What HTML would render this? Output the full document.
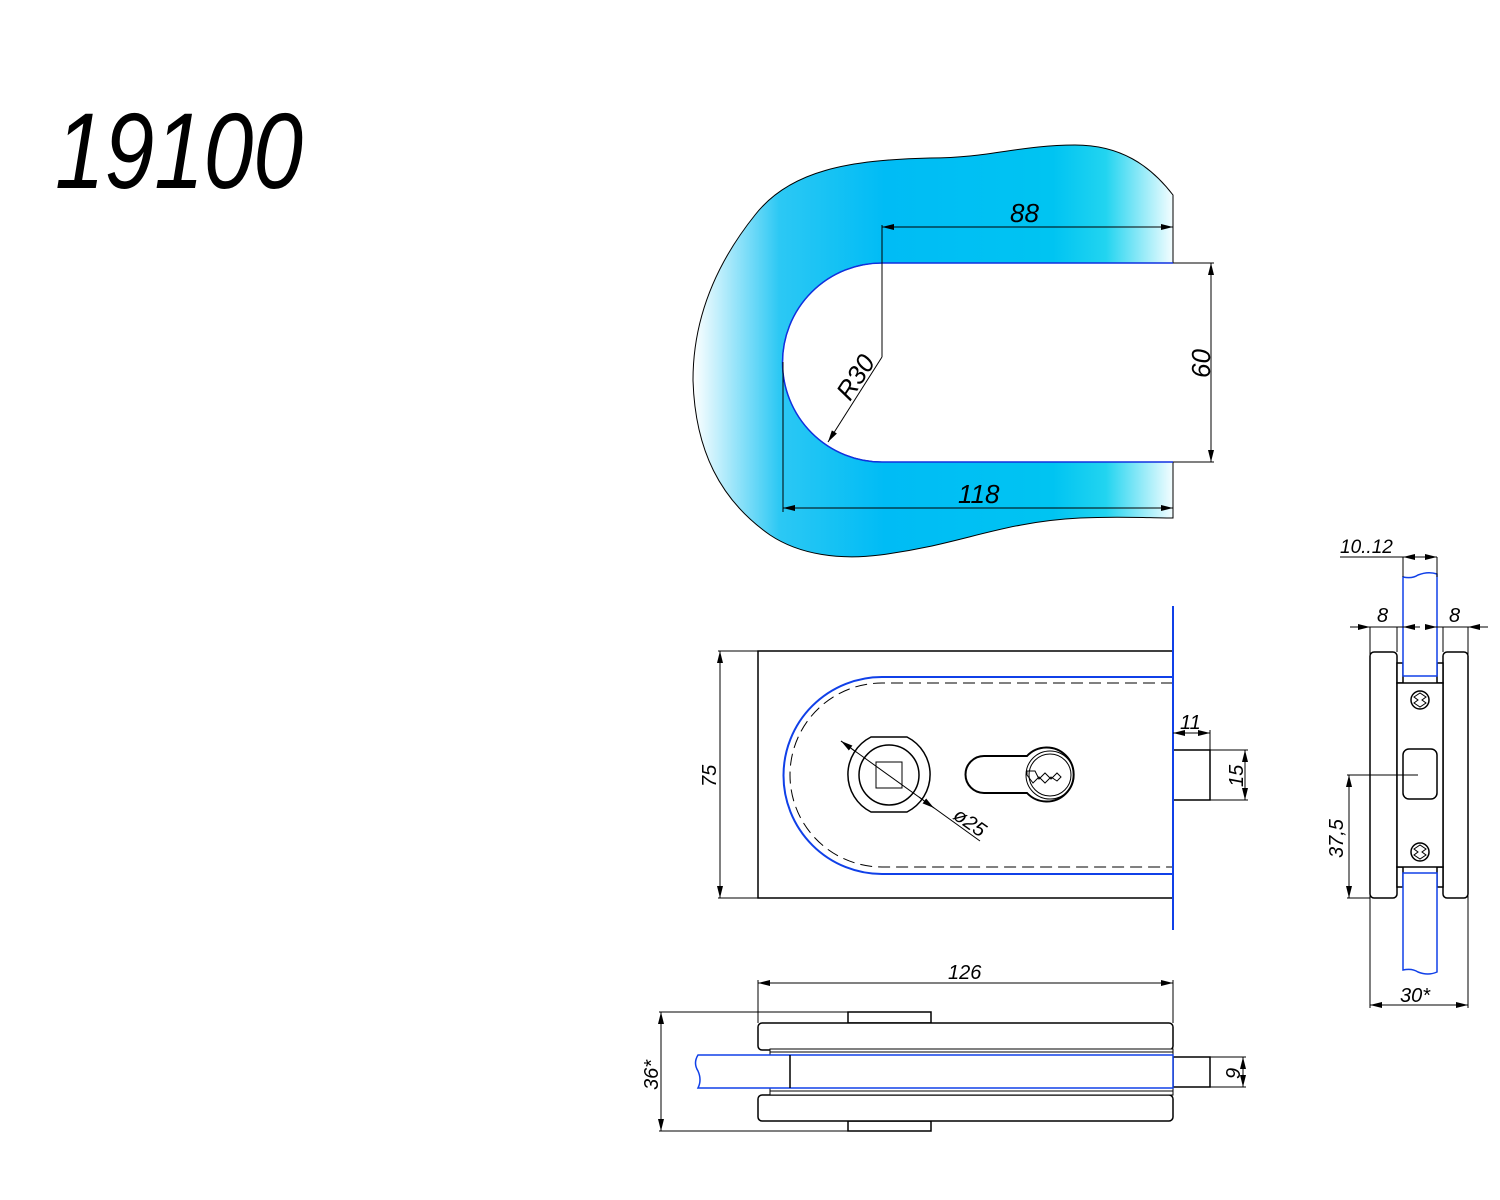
<!DOCTYPE html>
<html><head><meta charset="utf-8"><style>html,body{margin:0;padding:0;background:#fff}svg{display:block}text{font-family:"Liberation Sans",sans-serif;font-style:italic;fill:#000}</style></head><body>
<svg width="1500" height="1200" viewBox="0 0 1500 1200" xmlns="http://www.w3.org/2000/svg">
<defs>
<linearGradient id="g" x1="693" y1="0" x2="1173" y2="0" gradientUnits="userSpaceOnUse">
<stop offset="0" stop-color="#ffffff"/><stop offset="0.18" stop-color="#2cc8f4"/><stop offset="0.4" stop-color="#00bcf5"/><stop offset="0.75" stop-color="#00c4f2"/><stop offset="0.86" stop-color="#22d4f0"/><stop offset="1" stop-color="#f4fdff"/></linearGradient>
<marker id="a" viewBox="0 0 12 6" refX="12" refY="3" markerWidth="12" markerHeight="6" orient="auto-start-reverse" markerUnits="userSpaceOnUse"><path d="M0,0L12,3L0,6z" fill="#000"/></marker>
</defs>
<text x="55" y="188" font-size="108" textLength="248" lengthAdjust="spacingAndGlyphs">19100</text>

<path d="M1173,195 C1150,165 1120,145 1075,145 C1020,145 990,158 930,158 C850,160 790,170 755,215 C715,265 693,320 693,380 C695,450 720,500 770,535 C800,555 840,560 880,555 C960,545 1000,522 1080,518 C1120,516 1150,518 1173,518 L1173,462 L882,462 A99.5,99.5 0 0 1 882,263 L1173,263 Z" fill="url(#g)" stroke="#000" stroke-width="1"/>
<path d="M1173,263 L882,263 A99.5,99.5 0 0 0 882,462 L1173,462" fill="none" stroke="#1030e0" stroke-width="1.5"/>
<g stroke="#000" stroke-width="1" fill="none">
<line x1="882" y1="227" x2="1173" y2="227" marker-start="url(#a)" marker-end="url(#a)"/>
<line x1="882" y1="225" x2="882" y2="357"/>
<line x1="882" y1="357" x2="828" y2="442" marker-end="url(#a)"/>
<line x1="1173" y1="263" x2="1214" y2="263"/><line x1="1173" y1="462" x2="1214" y2="462"/>
<line x1="1211" y1="263" x2="1211" y2="462" marker-start="url(#a)" marker-end="url(#a)"/>
<line x1="783" y1="362" x2="783" y2="512"/>
<line x1="783" y1="508" x2="1173" y2="508" marker-start="url(#a)" marker-end="url(#a)"/>
</g>
<text x="1010" y="222" font-size="26">88</text>
<text x="958" y="503" font-size="26">118</text>
<text font-size="26" transform="translate(1210,378) rotate(-90)">60</text>
<text font-size="26" transform="translate(850,402) rotate(-57)">R30</text>

<g fill="none" stroke="#000" stroke-width="1.5">
<rect x="758" y="651" width="415" height="247"/>
<path d="M1173,683 L882,683 A92,92 0 0 0 882,867 L1173,867" stroke-dasharray="12,6" stroke-width="1"/>
<path d="M871,737 L907,737 A42,42 0 0 1 907,812 L871,812 A42,42 0 0 1 871,737 Z"/>
<circle cx="889" cy="775" r="30"/>
<rect x="876" y="762" width="26" height="26" stroke-width="1"/>
<path d="M984,756 L1027,756 A27,27 0 1 1 1027,793 L984,793 A18.5,18.5 0 0 1 984,756 Z" stroke-width="2"/>
<circle cx="1050" cy="775" r="24" stroke-width="1"/><circle cx="1050" cy="775" r="21" stroke-width="1"/>
<path d="M1027,771 l8,0 l4,8 l6,-6 l6,6 l6,-6 l4,4 l-4,4 l-6,-4 l-6,6 l-6,-6 l-6,6 l-6,-8 z" stroke-width="1"/>
<rect x="1173" y="750" width="37" height="50"/>
</g>
<path d="M1173,677 L882,677 A98.5,98.5 0 0 0 882,874 L1173,874" fill="none" stroke="#1040e8" stroke-width="2"/>
<line x1="1173" y1="606" x2="1173" y2="930" stroke="#1040e8" stroke-width="2"/>
<g stroke="#000" stroke-width="1" fill="none">
<line x1="841" y1="741" x2="980" y2="841"/>
<line x1="841" y1="741" x2="856" y2="752" marker-start="url(#a)"/>
<line x1="919" y1="797" x2="934" y2="808" marker-end="url(#a)"/>
<line x1="718" y1="651" x2="758" y2="651"/><line x1="718" y1="898" x2="758" y2="898"/>
<line x1="720" y1="651" x2="720" y2="898" marker-start="url(#a)" marker-end="url(#a)"/>
<line x1="1210" y1="730" x2="1210" y2="750"/>
<line x1="1173" y1="733" x2="1210" y2="733" marker-start="url(#a)" marker-end="url(#a)"/>
<line x1="1210" y1="750" x2="1248" y2="750"/><line x1="1210" y1="800" x2="1248" y2="800"/>
<line x1="1245" y1="750" x2="1245" y2="800" marker-start="url(#a)" marker-end="url(#a)"/>
</g>
<text font-size="20" transform="translate(716,787) rotate(-90)">75</text>
<text x="1180" y="729" font-size="20">11</text>
<text font-size="20" transform="translate(1243,787) rotate(-90)">15</text>
<text font-size="20" transform="translate(952,818) rotate(35)">ø25</text>

<g stroke="#000" stroke-width="1.5" fill="#fff">
<rect x="1370" y="652" width="27" height="246" rx="4"/>
<rect x="1443" y="652" width="25" height="246" rx="4"/>
<rect x="1397" y="663" width="6" height="20"/><rect x="1437" y="663" width="6" height="20"/>
<rect x="1397" y="867" width="6" height="20"/><rect x="1437" y="867" width="6" height="20"/>
</g>
<path d="M1403,676 L1403,577 Q1412,579 1418,575 Q1428,571 1437,574 L1437,676 Z" fill="#fff" stroke="#1040e8" stroke-width="1.5"/>
<path d="M1403,873 L1403,970 Q1412,968 1418,972 Q1428,976 1437,972 L1437,873 Z" fill="#fff" stroke="#1040e8" stroke-width="1.5"/>
<g stroke="#000" stroke-width="1.5" fill="#fff">
<rect x="1397" y="683" width="46" height="184"/>
<rect x="1403" y="749" width="34" height="50" rx="6"/>
<circle cx="1420" cy="700" r="9"/><circle cx="1420" cy="852" r="9"/>
</g>
<g stroke="#000" stroke-width="1" fill="none">
<path d="M1414,697 l6,-4 l6,4 l-4,3 l4,3 l-6,4 l-6,-4 l4,-3z M1414,849 l6,-4 l6,4 l-4,3 l4,3 l-6,4 l-6,-4 l4,-3z"/>
<line x1="1403" y1="557" x2="1403" y2="577"/><line x1="1437" y1="557" x2="1437" y2="577"/>
<line x1="1340" y1="557" x2="1437" y2="557"/>
<line x1="1418" y1="557" x2="1403" y2="557" marker-end="url(#a)"/><line x1="1422" y1="557" x2="1437" y2="557" marker-end="url(#a)"/>
<line x1="1370" y1="627" x2="1370" y2="1008"/><line x1="1468" y1="627" x2="1468" y2="1008"/>
<line x1="1397" y1="627" x2="1397" y2="652"/><line x1="1443" y1="627" x2="1443" y2="652"/>
<line x1="1350" y1="627" x2="1370" y2="627" marker-end="url(#a)"/>
<line x1="1370" y1="627" x2="1403" y2="627"/>
<line x1="1420" y1="627" x2="1403" y2="627" marker-end="url(#a)"/>
<line x1="1425" y1="627" x2="1437" y2="627" marker-end="url(#a)"/>
<line x1="1437" y1="627" x2="1468" y2="627"/>
<line x1="1488" y1="627" x2="1468" y2="627" marker-end="url(#a)"/>
<line x1="1347" y1="775" x2="1418" y2="775"/>
<line x1="1349" y1="775" x2="1349" y2="898" marker-start="url(#a)" marker-end="url(#a)"/>
<line x1="1347" y1="898" x2="1370" y2="898"/>
<line x1="1370" y1="1005" x2="1468" y2="1005" marker-start="url(#a)" marker-end="url(#a)"/>
</g>
<text x="1340" y="553" font-size="19">10..12</text>
<text x="1377" y="622" font-size="20">8</text>
<text x="1449" y="622" font-size="20">8</text>
<text font-size="20" transform="translate(1343,858) rotate(-90)">37,5</text>
<text x="1400" y="1002" font-size="20">30*</text>

<g stroke="#000" stroke-width="1.5" fill="#fff">
<rect x="848" y="1012" width="83" height="11"/>
<rect x="848" y="1121" width="83" height="10"/>
<rect x="758" y="1023" width="415" height="27" rx="4"/>
<rect x="758" y="1095" width="415" height="26" rx="4"/>
<rect x="770" y="1049" width="403" height="6" stroke-width="1"/>
<rect x="770" y="1088" width="403" height="7" stroke-width="1"/>
<rect x="1173" y="1057" width="37" height="30"/>
</g>
<line x1="770" y1="1052" x2="1173" y2="1052" stroke="#000" stroke-width="1"/>
<line x1="770" y1="1091" x2="1173" y2="1091" stroke="#000" stroke-width="1"/>
<path d="M1173,1055 L698,1055 Q693,1063 698,1071 Q702,1080 698,1088 L1173,1088 Z" fill="#fff" stroke="#1040e8" stroke-width="1.5"/>
<line x1="790" y1="1055" x2="790" y2="1088" stroke="#000" stroke-width="1.5"/>
<g stroke="#000" stroke-width="1" fill="none">
<line x1="758" y1="980" x2="758" y2="1023"/><line x1="1173" y1="980" x2="1173" y2="1023"/>
<line x1="758" y1="983" x2="1173" y2="983" marker-start="url(#a)" marker-end="url(#a)"/>
<line x1="659" y1="1012" x2="848" y2="1012"/><line x1="659" y1="1131" x2="848" y2="1131"/>
<line x1="661" y1="1012" x2="661" y2="1131" marker-start="url(#a)" marker-end="url(#a)"/>
<line x1="1210" y1="1057" x2="1246" y2="1057"/><line x1="1210" y1="1087" x2="1246" y2="1087"/>
<line x1="1243" y1="1057" x2="1243" y2="1087" marker-start="url(#a)" marker-end="url(#a)"/>
</g>
<text x="948" y="979" font-size="20">126</text>
<text font-size="20" transform="translate(658,1090) rotate(-90)">36*</text>
<text font-size="20" transform="translate(1240,1079) rotate(-90)">9</text>
</svg>
</body></html>
